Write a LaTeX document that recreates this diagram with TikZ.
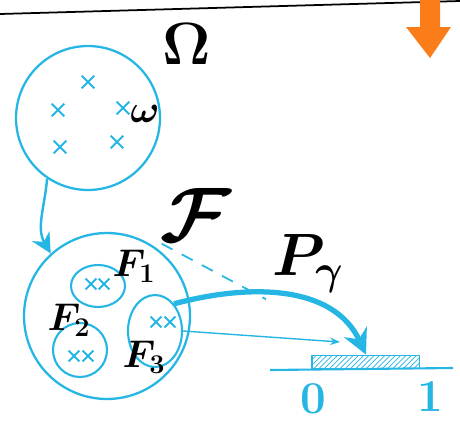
\documentclass[tikz,border=0pt]{standalone}
\usepackage{fix-cm}
\usepackage{amsmath,amssymb}
\usepackage{tikz}
\usetikzlibrary{arrows.meta,positioning,shapes,patterns}
\definecolor{penblue}{RGB}{38,182,228}
\definecolor{penorange}{RGB}{250,125,25}

\begin{document}
\begin{tikzpicture}[x=0.02cm, y=0.02cm,
    setc/.style={draw=penblue, line width=1.3pt, circle, minimum size=#1, inner sep=0pt},
    sube/.style 2 args={draw=penblue, line width=1.2pt, ellipse, minimum width=#1, minimum height=#2, inner sep=0pt},
    pt/.style={cross out, draw=penblue, line width=1.2pt, minimum size=#1, inner sep=0pt},
    lab/.style={font=\fontsize{#1}{#1}\selectfont\boldmath},
    arr/.style={-{Stealth[length=4mm, width=4mm]}, penblue, line width=1.4pt}
]
\useasboundingbox (0,0) rectangle (460,424);

% Page edge and marker
\draw[line width=1pt] (0,410) -- (460,423);
\fill[penorange] (420,424) -- (440,424) -- (440,397) -- (451,397) -- (430,366) -- (406,397) -- (420,397) -- cycle;

% Sample space
\node[setc=2.88cm] (om) at (88,306) {};
\node[lab=34] (omlab) at (187,380) {$\Omega$};
\node[pt=6pt] (w1) at (88,342) {};
\node[pt=6pt] (w2) at (58,314) {};
\node[pt=6pt] (w3) at (123,316) {};
\node[pt=6pt] (w4) at (60,277) {};
\node[pt=6pt] (w5) at (117,282) {};
\node[lab=22] (wlab) at (145,310) {$\omega$};

% Events
\node[setc=3.32cm] (fc) at (107,108) {};
\node[lab=44] (flab) at (196,209) {$\mathcal{F}$};
\node[sube={1.08cm}{0.84cm}] (f1) at (98,138) {};
\node[sube={1.08cm}{1.08cm}] (f2) at (80,74) {};
\node[sube={1.08cm}{1.44cm}] (f3) at (155,93) {};
\node[lab=22] (f1lab) at (134,158) {$F_1$};
\node[lab=22] (f2lab) at (69,104) {$F_2$};
\node[lab=22] (f3lab) at (144,67) {$F_3$};
\node[pt=5pt] (a1) at (91,140) {};
\node[pt=5pt] (a2) at (104,140) {};
\node[pt=5pt] (b1) at (74,68) {};
\node[pt=5pt] (b2) at (88,68) {};
\node[pt=5pt] (c1) at (156,102) {};
\node[pt=5pt] (c2) at (170,102) {};

% Unit interval
\coordinate (lineL) at (270,54);
\coordinate (lineR) at (453,56);
\draw[penblue, line width=1.2pt] (lineL) -- (lineR);
\node[draw=penblue, line width=1pt, pattern=north east lines, pattern color=penblue,
      minimum width=2.14cm, minimum height=0.26cm, inner sep=0pt] (seg) at (366,62) {};
\draw[penblue, line width=1.2pt] (seg.north west) -- (seg.south west |- lineL);
\node[lab=26, text=penblue] (zero) at (313,25) {$0$};
\node[lab=26, text=penblue] (one) at (430,27) {$1$};
\node[lab=34] (py) at (308,160) {$P_\gamma$};

% Maps
\draw[arr] (om.236) to[out=265, in=120] (fc.132);
\draw[penblue, line width=1pt, dashed, dash pattern=on 7pt off 6pt] (f1lab.north east) -- (py.south west);
\coordinate (thinend) at (340,82);
\draw[penblue, line width=0.8pt, -{Stealth[length=2mm]}] (f3.east) -- (thinend);
\draw[penblue, line width=3pt, -{Stealth[length=5mm, width=5mm]}] (f3.55) to[out=15, in=115] (seg.north);
\end{tikzpicture}
\end{document}
